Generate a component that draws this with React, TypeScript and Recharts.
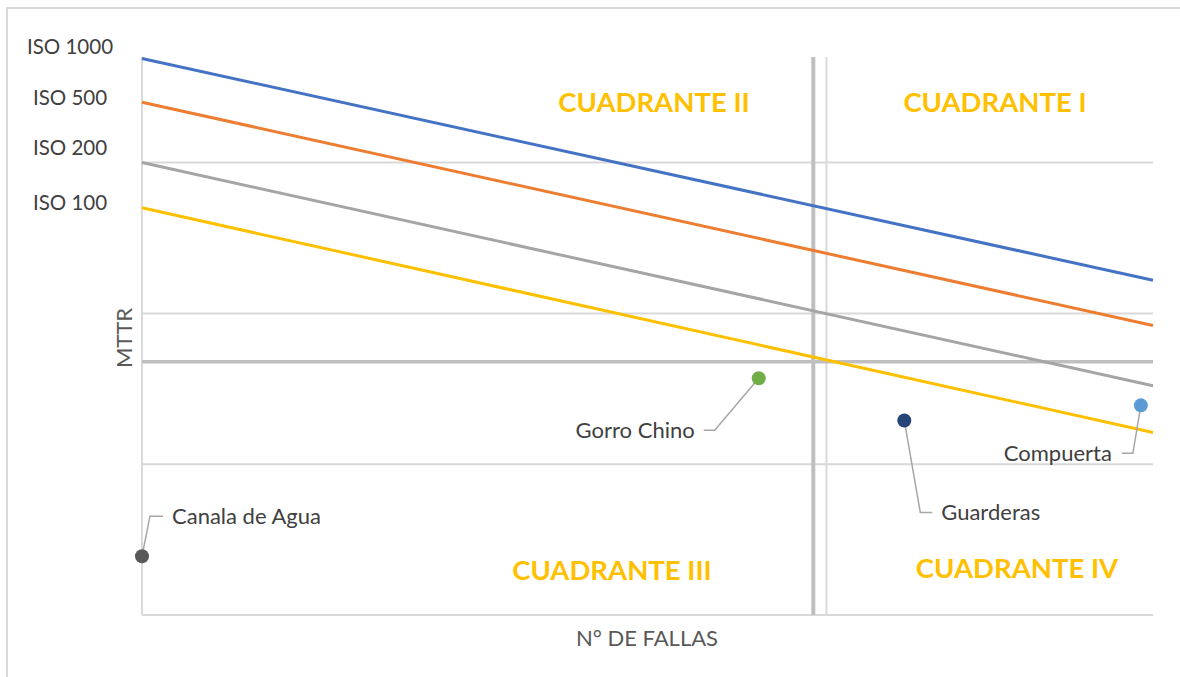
import React from 'react';
import { ScatterChart, Scatter, XAxis, YAxis, ReferenceLine } from 'recharts';

// ISO curves, N° de fallas vs MTTR (log units)
const iso1000 = [{ x: 0, y: 3.69 }, { x: 10, y: 2.22 }];
const iso500 = [{ x: 0, y: 3.40 }, { x: 10, y: 1.92 }];
const iso200 = [{ x: 0, y: 3.00 }, { x: 10, y: 1.52 }];
const iso100 = [{ x: 0, y: 2.70 }, { x: 10, y: 1.21 }];

const isoNames = ['ISO 1000', 'ISO 500', 'ISO 200', 'ISO 100'];

// equipos
const equipos = ['Canala de Agua', 'Gorro Chino', 'Guarderas', 'Compuerta'];
const fallas = [0, 6.1, 7.54, 9.88];
const mttr = [0.39, 1.57, 1.29, 1.39];

// limites de cuadrantes
const limiteFallas = 6.64;
const limiteFallas2 = 6.77;
const limiteMttr = 1.68;
const gridValues = [0, 1, 2, 3];

const quadrants = ['CUADRANTE I', 'CUADRANTE II', 'CUADRANTE III', 'CUADRANTE IV'];

const DOT_COLORS: Record<string, string> = {
  'Canala de Agua': '#595959',
  'Gorro Chino': '#70AD47',
  'Guarderas': '#264478',
  'Compuerta': '#5B9BD5',
};

// leader line elbows and text anchor, relative to the dot
const LEADERS: Record<string, { pts: number[][]; tx: number; ty: number; anchor: string }> = {
  'Canala de Agua': { pts: [[8, -40], [21, -40]], tx: 30, ty: -38, anchor: 'start' },
  'Gorro Chino': { pts: [[-44, 52], [-55, 52]], tx: -64, ty: 54, anchor: 'end' },
  'Guarderas': { pts: [[16, 92], [28, 92]], tx: 37, ty: 94, anchor: 'start' },
  'Compuerta': { pts: [[-8, 48], [-19, 48]], tx: -29, ty: 50, anchor: 'end' },
};

const FONT = 'Lato, "Open Sans", sans-serif';
const textColor = '#404040';

const points = equipos.map((name, i) => ({ name, x: fallas[i], y: mttr[i] }));

const EquipoDot = (props: any) => {
  const { cx, cy, payload } = props;
  const ld = LEADERS[payload.name];
  const path = `M${cx},${cy} ` + ld.pts.map(p => `L${cx + p[0]},${cy + p[1]}`).join(' ');
  return (
    <g>
      <path d={path} stroke="#a6a6a6" strokeWidth={1.5} fill="none" />
      <circle cx={cx} cy={cy} r={7} fill={DOT_COLORS[payload.name]} />
      <text x={cx + ld.tx} y={cy + ld.ty} textAnchor={ld.anchor} dominantBaseline="middle"
        fontFamily={FONT} fontSize={22} fill={textColor}>{payload.name}</text>
    </g>
  );
};

const NoDot = () => <g />;

const isoSeries = [
  { data: iso1000, color: '#4472C4' },
  { data: iso500, color: '#ED7D31' },
  { data: iso200, color: '#A5A5A5' },
  { data: iso100, color: '#FFC000' },
];

export default function App() {
  const isoY = [46, 97, 147, 202];
  const quadPos = [
    { x: 995, y: 101 },
    { x: 654, y: 101 },
    { x: 612, y: 569 },
    { x: 1017, y: 567 },
  ];
  return (
    <div style={{ position: 'relative', width: 1180, height: 677, background: '#fff', fontFamily: FONT }}>
      <style>{'body{margin:0}'}</style>
      <div style={{ position: 'absolute', left: 6, top: 7, right: -10, bottom: -10, border: '2px solid #d9d9d9' }} />
      <ScatterChart width={1180} height={677} margin={{ top: 57, right: 27, bottom: 62, left: 142 }}
        style={{ position: 'absolute', left: 0, top: 0 }}>
        <XAxis type="number" dataKey="x" domain={[0, 10]} hide />
        <YAxis type="number" dataKey="y" domain={[0, 3.7]} hide />
        {gridValues.map(v => (
          <ReferenceLine key={v} y={v} stroke="#d9d9d9" strokeWidth={2} />
        ))}
        <ReferenceLine x={0} stroke="#d9d9d9" strokeWidth={2} />
        <ReferenceLine x={limiteFallas2} stroke="#d9d9d9" strokeWidth={2} />
        <ReferenceLine x={limiteFallas} stroke="#bfbfbf" strokeWidth={4} />
        <ReferenceLine y={limiteMttr} stroke="#bfbfbf" strokeWidth={3.5} />
        {isoSeries.map((s, i) => (
          <Scatter key={isoNames[i]} name={isoNames[i]} data={s.data}
            line={{ stroke: s.color, strokeWidth: 3 }} shape={NoDot} isAnimationActive={false} />
        ))}
        <Scatter name="Equipos" data={points} shape={EquipoDot} isAnimationActive={false} />
      </ScatterChart>
      {isoNames.map((n, i) => (
        <div key={n} style={{ position: 'absolute', left: 70, top: isoY[i], transform: 'translate(-50%,-50%)',
          fontSize: 20.5, color: textColor, whiteSpace: 'nowrap' }}>{n}</div>
      ))}
      {quadrants.map((q, i) => (
        <div key={q} style={{ position: 'absolute', left: quadPos[i].x, top: quadPos[i].y, transform: 'translate(-50%,-50%)',
          fontSize: 27.5, fontWeight: 700, color: '#FFC000', whiteSpace: 'nowrap' }}>{q}</div>
      ))}
      <div style={{ position: 'absolute', left: 123, top: 338, transform: 'translate(-50%,-50%) rotate(-90deg)',
        fontSize: 22, color: '#595959', whiteSpace: 'nowrap' }}>MTTR</div>
      <div style={{ position: 'absolute', left: 647, top: 637, transform: 'translate(-50%,-50%)',
        fontSize: 22, color: '#595959', whiteSpace: 'nowrap' }}>N° DE FALLAS</div>
    </div>
  );
}
